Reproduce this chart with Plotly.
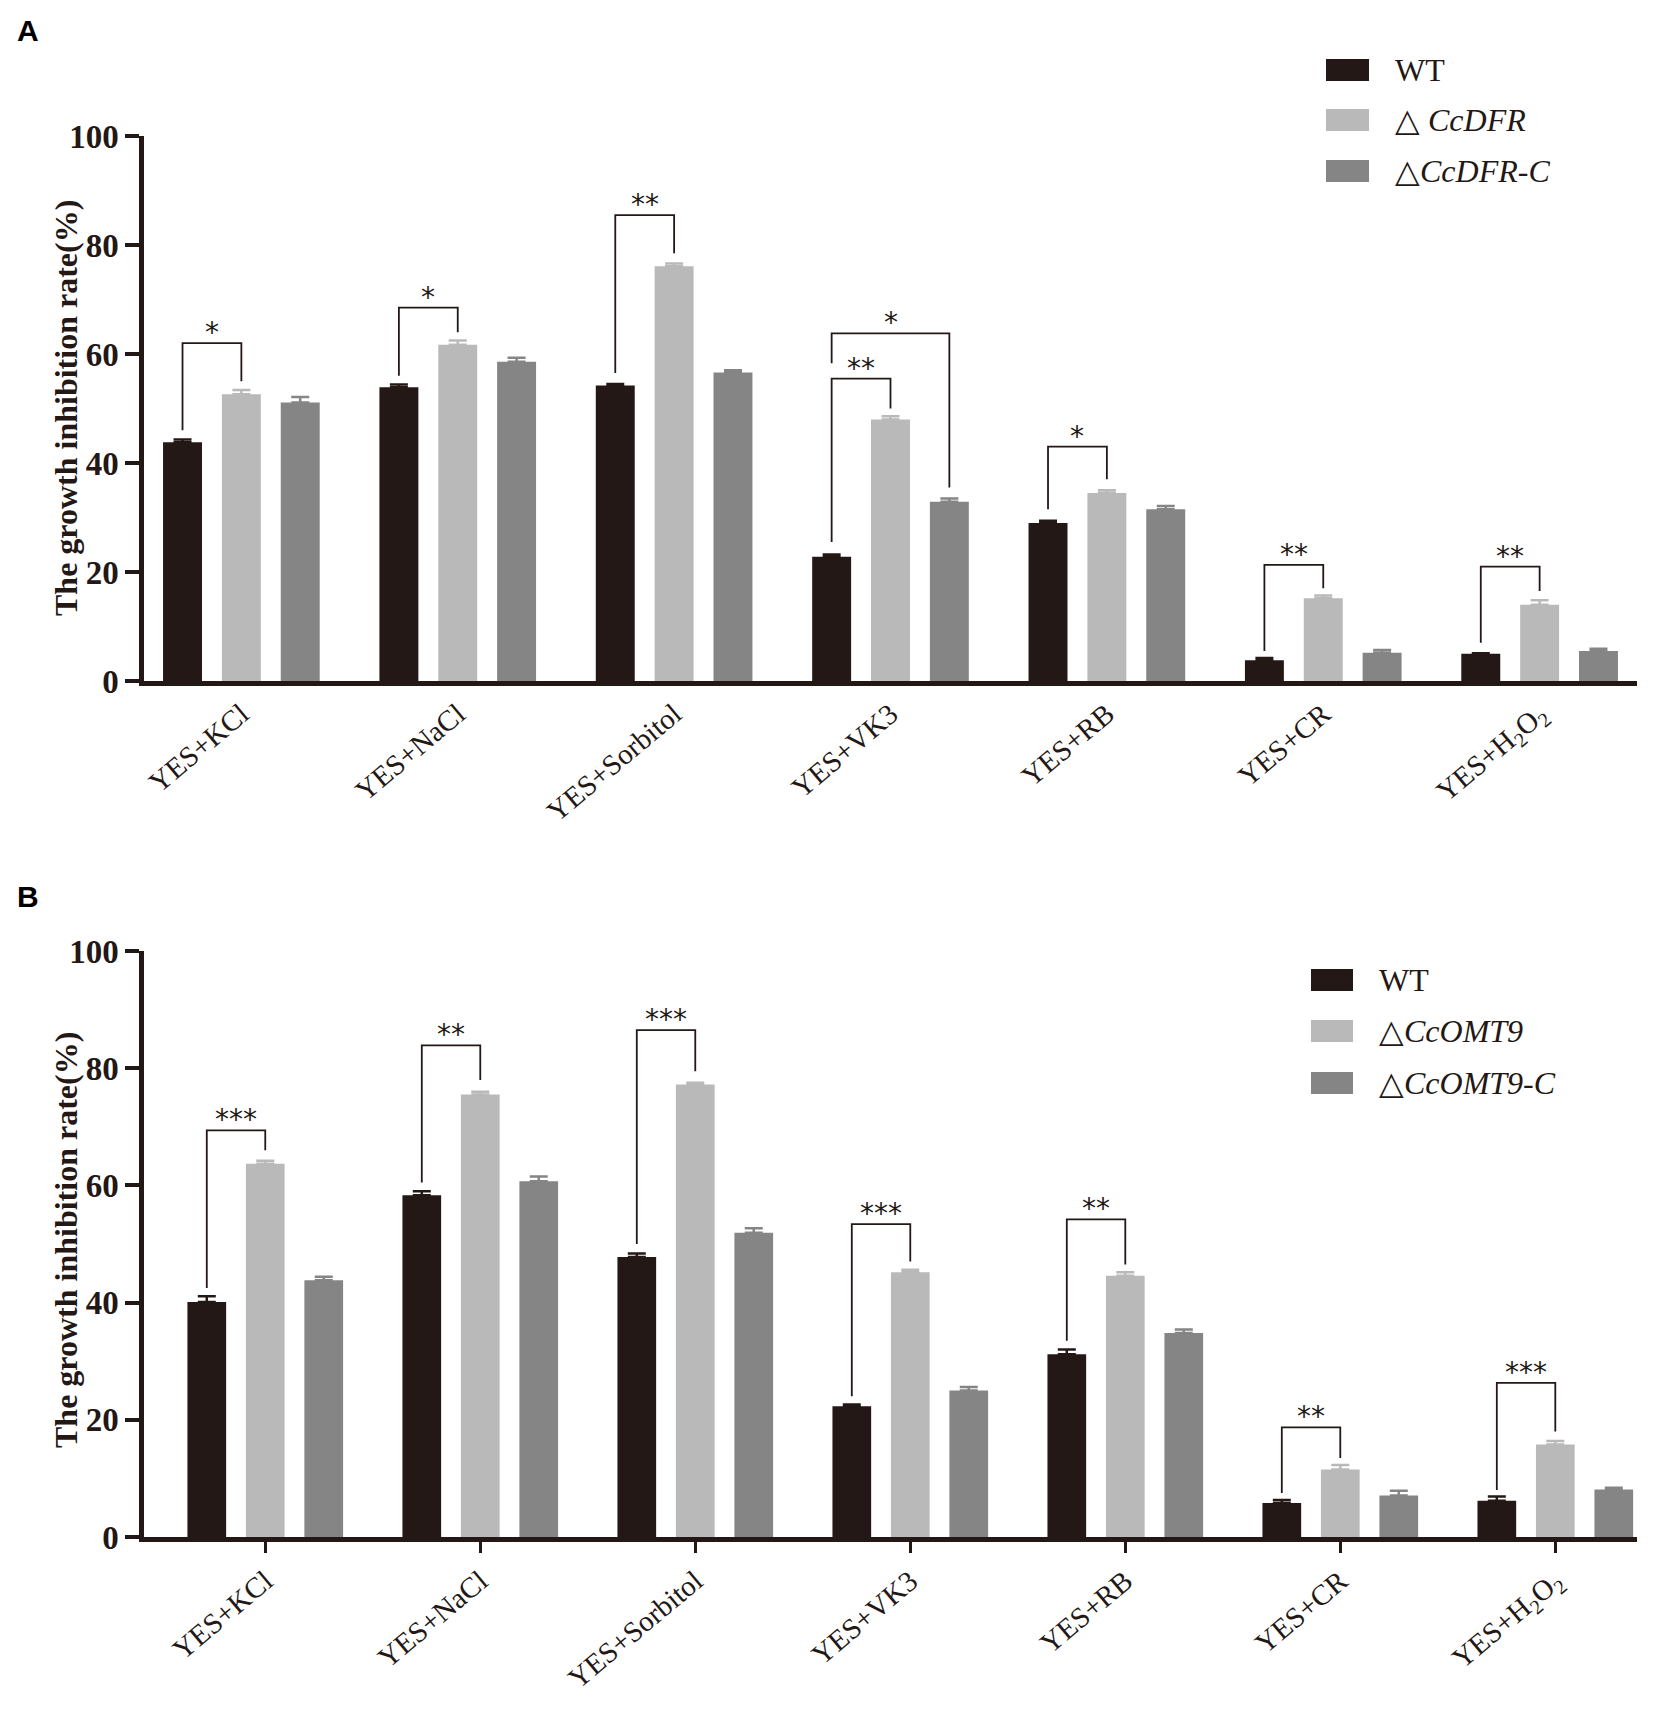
import plotly.graph_objects as go

# categories shared by both panels
categories = ["YES+KCl", "YES+NaCl", "YES+Sorbitol", "YES+VK3",
              "YES+RB", "YES+CR", "YES+H<sub>2</sub>O<sub>2</sub>"]

# panel A: CcDFR
a_names = ["WT", "△ <i>CcDFR</i>", "△<i>CcDFR-C</i>"]
a_wt = [43.8, 53.9, 54.2, 22.8, 29.0, 3.8, 5.0]
a_mut = [52.6, 61.7, 76.1, 48.0, 34.5, 15.2, 14.0]
a_comp = [51.1, 58.6, 56.6, 32.9, 31.5, 5.2, 5.5]
a_wt_err = [0.5, 0.5, 0.3, 0.4, 0.4, 0.4, 0.1]
a_mut_err = [0.8, 0.8, 0.5, 0.6, 0.5, 0.5, 0.8]
a_comp_err = [1.0, 0.7, 0.4, 0.6, 0.6, 0.5, 0.4]
# (category, series from, series to, bracket y, left leg y, right leg y, label)
a_sig = [
    (0, 0, 1, 62.0, 46.0, 55.0, "*"),
    (1, 0, 1, 68.5, 56.0, 64.0, "*"),
    (2, 0, 1, 85.5, 56.5, 78.5, "**"),
    (3, 0, 1, 55.5, 25.5, 50.0, "**"),
    (3, 0, 2, 63.8, 58.3, 35.5, "*"),
    (4, 0, 1, 43.0, 31.5, 37.0, "*"),
    (5, 0, 1, 21.3, 5.5, 17.0, "**"),
    (6, 0, 1, 21.0, 7.0, 16.5, "**"),
]

# panel B: CcOMT9
b_names = ["WT", "△<i>CcOMT9</i>", "△<i>CcOMT9-C</i>"]
b_wt = [40.1, 58.3, 47.8, 22.3, 31.2, 5.8, 6.2]
b_mut = [63.7, 75.5, 77.2, 45.2, 44.6, 11.5, 15.8]
b_comp = [43.8, 60.7, 51.9, 25.0, 34.8, 7.1, 8.1]
b_wt_err = [1.0, 0.7, 0.6, 0.3, 0.8, 0.5, 0.7]
b_mut_err = [0.5, 0.5, 0.3, 0.4, 0.6, 0.8, 0.6]
b_comp_err = [0.6, 0.8, 0.8, 0.6, 0.6, 0.8, 0.3]
b_sig = [
    (0, 0, 1, 69.4, 42.5, 66.0, "***"),
    (1, 0, 1, 83.9, 60.5, 78.0, "**"),
    (2, 0, 1, 86.5, 50.0, 79.5, "***"),
    (3, 0, 1, 53.4, 24.0, 47.0, "***"),
    (4, 0, 1, 54.2, 33.5, 46.5, "**"),
    (5, 0, 1, 18.7, 7.5, 13.5, "**"),
    (6, 0, 1, 26.3, 8.0, 18.0, "***"),
]

colors = ["#231815", "#b9b9b9", "#858585"]
W, H = 1654, 1709
SLOT = 0.272     # distance between bars in a group (category units)
BAR_W = 0.18
AXC = "#231815"
SERIF = "Liberation Serif"

fig = go.Figure()


def px_x(x):
    return x / W


def px_y(y):
    return 1 - y / H


def add_panel(xa, ya, series, errs, sig):
    n = len(categories)
    for i, (vals, err) in enumerate(zip(series, errs)):
        xs = [k + (i - 1) * SLOT for k in range(n)]
        fig.add_trace(go.Bar(
            x=xs, y=vals, width=BAR_W, marker=dict(color=colors[i], line=dict(width=0)),
            error_y=dict(type="data", array=err, arrayminus=[0] * n, symmetric=False,
                         color=colors[i], thickness=2.5, width=9),
            xaxis=xa, yaxis=ya, showlegend=False))
    for cat, s0, s1, yb, y0, y1, lab in sig:
        xl = cat + (s0 - 1) * SLOT
        xr = cat + (s1 - 1) * SLOT
        fig.add_trace(go.Scatter(
            x=[xl, xl, xr, xr], y=[y0, yb, yb, y1], mode="lines",
            line=dict(color="#231815", width=1.8), xaxis=xa, yaxis=ya,
            showlegend=False, hoverinfo="skip"))
        fig.add_annotation(x=(xl + xr) / 2, y=yb, xref=xa, yref=ya, text=lab,
                           showarrow=False, yanchor="bottom", yshift=-8,
                           font=dict(family="DejaVu Sans", size=28, color="#231815"))


add_panel("x", "y", [a_wt, a_mut, a_comp], [a_wt_err, a_mut_err, a_comp_err], a_sig)
add_panel("x2", "y2", [b_wt, b_mut, b_comp], [b_wt_err, b_mut_err, b_comp_err], b_sig)

xdom = [px_x(136), px_x(1629)]
yticks = [0, 20, 40, 60, 80, 100]
ycommon = dict(range=[0, 100], tickvals=yticks, ticks="outside", ticklen=14, tickwidth=4,
               tickcolor=AXC, showline=True, linewidth=4.5, linecolor=AXC, showgrid=False,
               zeroline=False, automargin=False,
               tickfont=dict(family=SERIF, size=33, color=AXC, weight="bold"))
xcommon = dict(tickvals=list(range(len(categories))), ticktext=categories, tickangle=-40,
               showline=True, linewidth=4.5, linecolor=AXC, showgrid=False, zeroline=False,
               automargin=False, tickfont=dict(family=SERIF, size=29, color=AXC))

fig.update_layout(
    width=W, height=H, margin=dict(l=0, r=0, t=0, b=0),
    paper_bgcolor="white", plot_bgcolor="white", barmode="overlay",
    xaxis=dict(domain=xdom, range=[-0.45, 6.45], anchor="y", ticks="", **xcommon),
    yaxis=dict(domain=[px_y(673), px_y(128)], anchor="x", **ycommon),
    xaxis2=dict(domain=xdom, range=[-0.564, 6.38], anchor="y2", ticks="outside",
                ticklen=11, tickwidth=3, tickcolor=AXC, **xcommon),
    yaxis2=dict(domain=[px_y(1529), px_y(943)], anchor="x2", **ycommon),
)

# axis titles and panel letters
for yc, letter, ly in [(400, "A", 22), (1232, "B", 888)]:
    fig.add_annotation(x=px_x(58), y=px_y(yc), xref="paper", yref="paper",
                       xanchor="center", yanchor="middle",
                       text="The growth inhibition rate(%)", textangle=-90, showarrow=False,
                       font=dict(family=SERIF, size=32, color=AXC, weight="bold"))
    fig.add_annotation(x=px_x(7), y=px_y(ly), xref="paper", yref="paper", text=letter,
                       xanchor="left", yanchor="middle", showarrow=False,
                       font=dict(family="Liberation Sans", size=30, color="black", weight="bold"))

# legends drawn as swatches plus labels
for names, x0, x1, ys in [(a_names, 1318, 1361, [62, 112, 163]),
                          (b_names, 1303, 1345, [972, 1023, 1075])]:
    for name, col, yc in zip(names, colors, ys):
        fig.add_shape(type="rect", xref="paper", yref="paper",
                      x0=px_x(x0), x1=px_x(x1), y0=px_y(yc - 11), y1=px_y(yc + 11),
                      fillcolor=col, line=dict(width=0))
        fig.add_annotation(x=px_x(x1 + 24), y=px_y(yc), xref="paper", yref="paper",
                           text=name, xanchor="left", yanchor="middle", showarrow=False,
                           font=dict(family=SERIF, size=32, color=AXC))

fig.write_html("out.html")
